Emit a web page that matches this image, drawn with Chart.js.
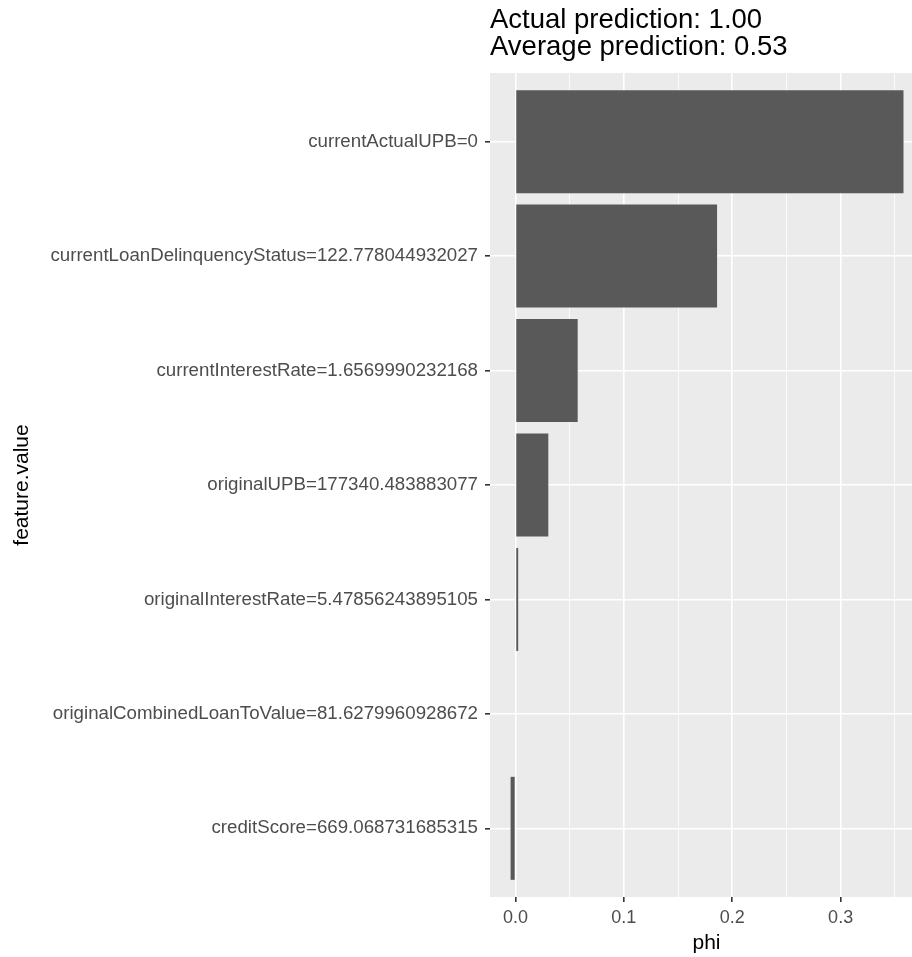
<!DOCTYPE html>
<html>
<head>
<meta charset="utf-8">
<script src="https://cdn.jsdelivr.net/npm/chart.js@4/dist/chart.umd.min.js"></script>
<style>
  html, body { margin: 0; padding: 0; background: #fff; overflow: hidden; }
  #wrap { width: 923px; height: 957px; }
</style>
</head>
<body>
<div id="wrap"><canvas id="phiChart" width="923" height="957"></canvas></div>
<script>
// feature contributions (phi), top to bottom as in the plot
const features = [
    'currentActualUPB=0',
    'currentLoanDelinquencyStatus=122.778044932027',
    'currentInterestRate=1.6569990232168',
    'originalUPB=177340.483883077',
    'originalInterestRate=5.47856243895105',
    'originalCombinedLoanToValue=81.6279960928672',
    'creditScore=669.068731685315'
];
const phi = [0.358, 0.186, 0.0574, 0.0303, 0.0025, 0.0, -0.0045];
const xTicks = [0, 0.05, 0.1, 0.15, 0.2, 0.25, 0.3, 0.35];
const titleLines = ['Actual prediction: 1.00', 'Average prediction: 0.53'];

const FONT = "'Liberation Sans', Arial, sans-serif";
const isMajor = v => Math.round(v * 100) % 10 === 0;

// grey ggplot panel behind the grid
const panelBg = {
    id: 'panelBg',
    beforeDraw(chart) {
        const { ctx, chartArea: a } = chart;
        ctx.save();
        ctx.fillStyle = '#fff';
        ctx.fillRect(0, 0, chart.width, chart.height);
        ctx.fillStyle = '#EBEBEB';
        ctx.fillRect(a.left, a.top, a.right - a.left, a.bottom - a.top);
        ctx.restore();
    }
};

document.addEventListener('DOMContentLoaded', () => {
    const canvas = document.getElementById('phiChart');
    const ctx = canvas.getContext('2d');

    new Chart(ctx, {
        type: 'bar',
        data: {
            datasets: [{
                data: phi.map((v, i) => ({ x: v, y: i + 1 })),
                backgroundColor: '#595959',
                borderWidth: 0,
                barPercentage: 0.9,
                categoryPercentage: 1.0
            }]
        },
        options: {
            indexAxis: 'y',
            responsive: false,
            animation: false,
            layout: { padding: 0 },
            plugins: {
                legend: { display: false },
                tooltip: { enabled: false },
                title: {
                    display: true,
                    text: titleLines,
                    fullSize: false,
                    align: 'start',
                    color: '#000',
                    font: { family: FONT, size: 27.5, weight: 'normal', lineHeight: 1.0 },
                    padding: { top: 6.5, bottom: 11.5 }
                }
            },
            scales: {
                x: {
                    type: 'linear',
                    min: -0.0235,
                    max: 0.376,
                    afterBuildTicks: s => { s.ticks = xTicks.map(v => ({ value: v })); },
                    afterFit: s => { s.height = 60; },
                    border: { display: false },
                    grid: {
                        color: '#fff',
                        lineWidth: c => isMajor(c.tick.value) ? 1.6 : 0.8,
                        tickColor: c => isMajor(c.tick.value) ? '#333333' : 'rgba(0,0,0,0)',
                        tickWidth: 1.6,
                        tickLength: 5
                    },
                    ticks: {
                        autoSkip: false,
                        maxRotation: 0,
                        padding: 5,
                        color: '#4D4D4D',
                        font: { family: FONT, size: 18 },
                        callback: v => isMajor(v) ? v.toFixed(1) : ''
                    },
                    title: {
                        display: true,
                        text: 'phi',
                        color: '#000',
                        font: { family: FONT, size: 21 },
                        padding: { top: 0, bottom: 1.5 }
                    }
                },
                y: {
                    type: 'linear',
                    reverse: true,
                    offset: false,
                    min: 0.4,
                    max: 7.6,
                    afterBuildTicks: s => { s.ticks = features.map((f, i) => ({ value: i + 1 })); },
                    afterFit: s => { s.width = 490; },
                    border: { display: false },
                    grid: {
                        offset: false,
                        color: '#fff',
                        lineWidth: 1.6,
                        tickColor: '#333333',
                        tickWidth: 1.6,
                        tickLength: 5
                    },
                    ticks: {
                        autoSkip: false,
                        padding: 7,
                        color: '#4D4D4D',
                        font: { family: FONT, size: 18.7 },
                        callback: v => features[Math.round(v) - 1]
                    },
                    title: {
                        display: true,
                        text: 'feature.value',
                        color: '#000',
                        font: { family: FONT, size: 21 },
                        padding: { top: 9.5, bottom: 0 }
                    }
                }
            }
        },
        plugins: [panelBg]
    });
});
</script>
</body>
</html>
